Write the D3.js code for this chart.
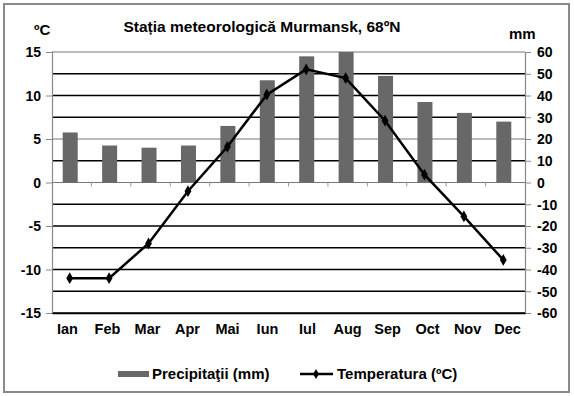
<!DOCTYPE html>
<html>
<head>
<meta charset="utf-8">
<script src="https://cdn.jsdelivr.net/npm/d3@7"></script>
<style>
  body { margin: 0; background: #fff; }
  text { font-family: Arial, "Liberation Sans", sans-serif; font-weight: bold; fill: #000; }
</style>
</head>
<body>
<div id="chart"></div>
<script>
// data
const months = ['Ian', 'Feb', 'Mar', 'Apr', 'Mai', 'Iun', 'Iul', 'Aug', 'Sep', 'Oct', 'Nov', 'Dec'];
const precipitation = [23, 17, 16, 17, 26, 47, 58, 60, 49, 37, 32, 28];
const temperature = [-11, -11, -7, -1, 4.1, 10.1, 13, 12, 7.1, 0.9, -3.9, -8.9];
const leftTicks = [15, 10, 5, 0, -5, -10, -15];
const rightTicks = [60, 50, 40, 30, 20, 10, 0, -10, -20, -30, -40, -50, -60];

const W = 574, H = 396;
const margin = {top: 52, right: 49, bottom: 83, left: 52};
const width = W - margin.left - margin.right;
const height = H - margin.top - margin.bottom;

const svg = d3.select('#chart')
  .append('svg')
    .attr('width', W)
    .attr('height', H);

// outer frame
svg.append('rect')
  .attr('x', 4).attr('y', 4)
  .attr('width', 565).attr('height', 388)
  .attr('fill', 'none')
  .attr('stroke', '#8a8a8a')
  .attr('stroke-width', 2);

const g = svg.append('g')
  .attr('transform', 'translate(' + margin.left + ',' + margin.top + ')');

const x = d3.scaleBand()
  .domain(months)
  .range([0, width]);

const yT = d3.scaleLinear().domain([-15, 15]).range([height, 0]);
const yP = d3.scaleLinear().domain([-60, 60]).range([height, 0]);

// gridlines, every 10 mm
const soft = d => d === 60 || d === 0 || d === 20;
g.append('g')
  .selectAll('line')
  .data(rightTicks)
  .enter()
  .append('line')
    .attr('x1', 0).attr('x2', width)
    .attr('y1', d => yP(d)).attr('y2', d => yP(d))
    .attr('stroke', d => soft(d) ? '#777' : '#000')
    .attr('stroke-width', d => soft(d) ? 1.2 : 1.6);

// bars
const barW = 15;
g.selectAll('.bar')
  .data(months)
  .enter()
  .append('rect')
    .attr('class', 'bar')
    .attr('x', d => x(d) + x.bandwidth() / 2 - barW / 2 - 1.5)
    .attr('width', barW)
    .attr('y', (d, i) => yP(precipitation[i]))
    .attr('height', (d, i) => yP(0) - yP(precipitation[i]))
    .attr('fill', '#686868');

// small tick marks on zero line between categories
g.append('g')
  .selectAll('line')
  .data(months.slice(1))
  .enter()
  .append('line')
    .attr('x1', d => x(d)).attr('x2', d => x(d))
    .attr('y1', yT(0)).attr('y2', yT(0) + 4)
    .attr('stroke', '#999');

// left axis
const leftAxis = g.append('g')
  .call(d3.axisLeft(yT).tickValues(leftTicks).tickSize(6).tickFormat(d => d));
leftAxis.select('.domain').attr('stroke', '#888').attr('stroke-width', 1.2);
leftAxis.selectAll('.tick line').attr('stroke', '#888');
leftAxis.selectAll('text').style('font-size', '14px').attr('x', -11).attr('dy', '0.35em');

// right axis
const rightAxis = g.append('g')
  .attr('transform', 'translate(' + width + ',0)')
  .call(d3.axisRight(yP).tickValues(rightTicks).tickSize(6).tickFormat(d => d));
rightAxis.select('.domain').attr('stroke', '#888').attr('stroke-width', 1.2);
rightAxis.selectAll('.tick line').attr('stroke', '#888');
rightAxis.selectAll('text').style('font-size', '14px').attr('x', 12).attr('dy', '0.35em');

// bottom axis labels
const bottomAxis = g.append('g')
  .attr('transform', 'translate(0,' + height + ')')
  .call(d3.axisBottom(x).tickSize(0).tickPadding(11));
bottomAxis.select('.domain').attr('stroke', '#000').attr('stroke-width', 1.6);
bottomAxis.selectAll('text')
  .style('font-size', '14.5px')
  .attr('dx', (d, i) => (i - 5.5) * 0.6 - 1);

// temperature line
const line = d3.line()
  .x((d, i) => x(months[i]) + x.bandwidth() / 2 - 2)
  .y(d => yT(d));

g.append('path')
  .datum(temperature)
  .attr('d', line)
  .attr('fill', 'none')
  .attr('stroke', '#000')
  .attr('stroke-width', 2.5);

g.selectAll('.pt')
  .data(temperature)
  .enter()
  .append('path')
    .attr('class', 'pt')
    .attr('d', d3.symbol().type(d3.symbolDiamond).size(40))
    .attr('transform', (d, i) => 'translate(' + (x(months[i]) + x.bandwidth() / 2 - 2) + ',' + yT(d) + ')')
    .attr('fill', '#000');

// titles
svg.append('text')
  .attr('x', 262).attr('y', 32)
  .attr('text-anchor', 'middle')
  .style('font-size', '15.5px')
  .text('Stația meteorologică Murmansk, 68ºN');

svg.append('text')
  .attr('x', 34).attr('y', 35)
  .style('font-size', '15px')
  .text('ºC');

svg.append('text')
  .attr('x', 509).attr('y', 39)
  .style('font-size', '15px')
  .text('mm');

// legend
const lg = svg.append('g').attr('transform', 'translate(0,374)');
lg.append('rect')
  .attr('x', 118).attr('y', -3)
  .attr('width', 31).attr('height', 6)
  .attr('fill', '#686868');
lg.append('text')
  .attr('x', 152).attr('y', 0).attr('dy', '0.35em')
  .style('font-size', '15px')
  .text('Precipitaţii (mm)');
lg.append('line')
  .attr('x1', 300).attr('x2', 333)
  .attr('y1', 0).attr('y2', 0)
  .attr('stroke', '#000').attr('stroke-width', 2.5);
lg.append('path')
  .attr('d', d3.symbol().type(d3.symbolDiamond).size(30))
  .attr('transform', 'translate(316,0)')
  .attr('fill', '#000');
lg.append('text')
  .attr('x', 337).attr('y', 0).attr('dy', '0.35em')
  .style('font-size', '15px')
  .text('Temperatura (ºC)');
</script>
</body>
</html>
